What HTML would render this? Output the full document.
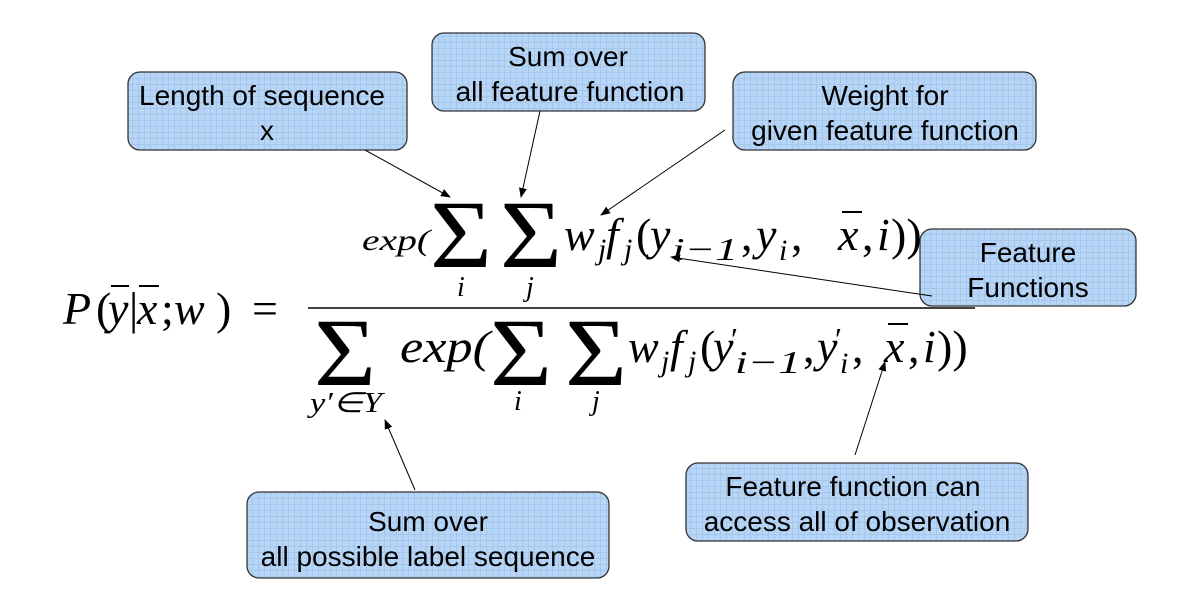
<!DOCTYPE html>
<html><head><meta charset="utf-8"><style>
html,body{margin:0;padding:0;background:#fff;}
svg{display:block;}
.m{font-family:"Liberation Serif",serif;font-style:italic;fill:#000;}
.r{font-family:"Liberation Serif",serif;fill:#000;}
.b{font-family:"Liberation Sans",sans-serif;font-size:28px;fill:#000;text-anchor:middle;}
</style></head><body>
<svg width="1200" height="614" viewBox="0 0 1200 614" xmlns="http://www.w3.org/2000/svg">
<defs>
<pattern id="g" width="6" height="6" patternUnits="userSpaceOnUse">
<rect width="6" height="6" fill="#b7d5f6"/><path d="M0 0.5H6M0.5 0V6" stroke="#a6c6ea" stroke-width="1"/>
</pattern>
<marker id="a" markerWidth="10" markerHeight="8" refX="9" refY="4" orient="auto" markerUnits="userSpaceOnUse">
<path d="M0 0L10 4L0 8z" fill="#000"/></marker>
</defs>
<g stroke="#333" stroke-width="1.3" fill="url(#g)">
<rect x="128" y="72" width="279" height="78" rx="12"/>
<rect x="432" y="33" width="273" height="78" rx="12"/>
<rect x="733" y="72" width="303" height="78" rx="12"/>
<rect x="920" y="229" width="216" height="77" rx="12"/>
<rect x="686" y="463" width="342" height="78" rx="12"/>
<rect x="247" y="492" width="362" height="86" rx="12"/>
</g>
<text class="b" x="262" y="105">Length of sequence</text>
<text class="b" x="267" y="140">x</text>
<text class="b" x="568" y="66">Sum over</text>
<text class="b" x="570" y="101">all feature function</text>
<text class="b" x="885" y="105">Weight for</text>
<text class="b" x="885" y="140">given feature function</text>
<text class="b" x="1028" y="262">Feature</text>
<text class="b" x="1028" y="297">Functions</text>
<text class="b" x="853" y="496">Feature function can</text>
<text class="b" x="857" y="531">access all of observation</text>
<text class="b" x="428" y="531">Sum over</text>
<text class="b" x="428" y="566">all possible label sequence</text>
<g stroke="#000" stroke-width="1" marker-end="url(#a)">
<line x1="365" y1="150" x2="450" y2="197"/>
<line x1="540" y1="111" x2="521" y2="197"/>
<line x1="725" y1="130" x2="601" y2="215"/>
<line x1="932" y1="296" x2="671" y2="257"/>
<line x1="855" y1="455" x2="885" y2="362"/>
<line x1="415" y1="490" x2="385" y2="420"/>
</g>
<!-- LHS -->
<g font-size="46">
<text class="m" x="63" y="324">P</text>
<text class="r" x="96" y="324">(</text>
<text class="m" x="108" y="324">y</text>
<text class="r" x="129" y="324">|</text>
<text class="m" x="137" y="324">x</text>
<text class="r" x="161" y="324">;</text>
<text class="m" x="174" y="324">w</text>
<text class="r" x="216" y="324">)</text>
<text class="r" x="252" y="324">=</text>
</g>
<line x1="111" y1="286" x2="129" y2="286" stroke="#000" stroke-width="2"/>
<line x1="139" y1="286" x2="159" y2="286" stroke="#000" stroke-width="2"/>
<line x1="308" y1="308" x2="975" y2="308" stroke="#000" stroke-width="1.5"/>
<!-- numerator -->
<text class="m" x="362" y="250" font-size="30" textLength="68" lengthAdjust="spacingAndGlyphs">exp(</text>
<text class="r" x="430" y="267" font-size="96" textLength="62" lengthAdjust="spacingAndGlyphs">Σ</text>
<text class="r" x="500" y="267" font-size="96" textLength="62" lengthAdjust="spacingAndGlyphs">Σ</text>
<text class="m" x="457" y="296" font-size="28">i</text>
<text class="m" x="526" y="296" font-size="28">j</text>
<g font-size="46">
<text class="m" x="564" y="250">w</text>
<text class="m" x="598" y="259" font-size="30">j</text>
<text class="m" x="606" y="250">f</text>
<text class="m" x="624" y="259" font-size="30">j</text>
<text class="r" x="636" y="250">(</text>
<text class="m" x="650" y="250">y</text>
<text class="m" x="672" y="260" font-size="32" textLength="66" lengthAdjust="spacingAndGlyphs">i−1</text>
<text class="r" x="741" y="250">,</text>
<text class="m" x="756" y="250">y</text>
<text class="m" x="779" y="260" font-size="30">i</text>
<text class="r" x="791" y="250">,</text>
<text class="m" x="838" y="250">x</text>
<text class="r" x="862" y="250">,</text>
<text class="m" x="877" y="250">i</text>
<text class="r" x="891" y="250">))</text>
</g>
<line x1="842" y1="212" x2="862" y2="212" stroke="#000" stroke-width="2"/>
<!-- denominator -->
<text class="r" x="314" y="385" font-size="96" textLength="62" lengthAdjust="spacingAndGlyphs">Σ</text>
<text class="m" x="310" y="412" font-size="28" textLength="72" lengthAdjust="spacingAndGlyphs">y′∈Y</text>
<text class="m" x="400" y="362" font-size="46" textLength="90" lengthAdjust="spacingAndGlyphs">exp(</text>
<text class="r" x="490" y="385" font-size="96" textLength="62" lengthAdjust="spacingAndGlyphs">Σ</text>
<text class="r" x="565" y="385" font-size="96" textLength="62" lengthAdjust="spacingAndGlyphs">Σ</text>
<text class="m" x="514" y="410" font-size="28">i</text>
<text class="m" x="592" y="410" font-size="28">j</text>
<g font-size="46">
<text class="m" x="628" y="362">w</text>
<text class="m" x="661" y="371" font-size="30">j</text>
<text class="m" x="670" y="362">f</text>
<text class="m" x="688" y="371" font-size="30">j</text>
<text class="r" x="700" y="362">(</text>
<text class="m" x="713" y="362">y</text>
<text class="r" x="731" y="350" font-size="32">′</text>
<text class="m" x="735" y="373" font-size="32" textLength="66" lengthAdjust="spacingAndGlyphs">i−1</text>
<text class="r" x="803" y="362">,</text>
<text class="m" x="817" y="362">y</text>
<text class="r" x="835" y="350" font-size="32">′</text>
<text class="m" x="840" y="373" font-size="30">i</text>
<text class="r" x="852" y="362">,</text>
<text class="m" x="884" y="362">x</text>
<text class="r" x="908" y="362">,</text>
<text class="m" x="923" y="362">i</text>
<text class="r" x="937" y="362">))</text>
</g>
<line x1="888" y1="324" x2="908" y2="324" stroke="#000" stroke-width="2"/>
</svg>
</body></html>
